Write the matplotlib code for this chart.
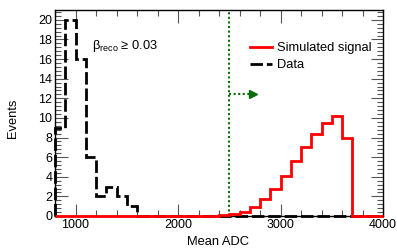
import numpy as np
import matplotlib
matplotlib.use("Agg")
import matplotlib.pyplot as plt
from matplotlib.ticker import MultipleLocator

plt.rcParams['font.family'] = ['Liberation Sans', 'DejaVu Sans']
plt.rcParams['mathtext.fontset'] = 'custom'
plt.rcParams['mathtext.rm'] = 'Liberation Sans'
plt.rcParams['mathtext.it'] = 'Liberation Sans:italic'

# binning: 100 ADC wide bins from 800 to 4000
edges = np.arange(800, 4001, 100)

data_counts = [9, 20, 16, 6, 2, 3, 2, 1, 0, 0, 0, 0, 0, 0, 0, 0,
               0, 0, 0, 0, 0, 0, 0, 0, 0, 0, 0, 0, 0, 0, 0, 0]
signal_counts = [0, 0, 0, 0, 0, 0, 0, 0, 0, 0, 0, 0, 0, 0, 0, 0,
                 0.08, 0.22, 0.45, 0.88, 1.7, 2.8, 4.1, 5.6, 7.0, 8.4, 9.5, 10.2,
                 7.95, 0, 0, 0]

cut = 2500
arrow_y = 12.4
arrow_end = 2700

fig = plt.figure(figsize=(3.97, 2.52), dpi=100)
ax = fig.add_axes([55 / 397, 1 - 216 / 252, 328 / 397, 206 / 252])

green = '#0a6e0a'
ax.axvline(cut, color=green, ls=(0, (1, 1.2)), lw=1.5, zorder=1)
ax.plot([cut, arrow_end], [arrow_y, arrow_y], color=green, ls=(0, (1, 1.2)), lw=1.5)
ax.plot([arrow_end + 35], [arrow_y], marker='>', ms=6, color=green, ls='none')

ax.stairs(data_counts, edges, color='black', lw=2, ls=(0, (4.5, 1.4)),
          baseline=0, label='Data', zorder=2, clip_on=False)
ax.stairs(signal_counts, edges, color='red', lw=2, baseline=0,
          label='Simulated signal', zorder=3, clip_on=False)

ax.set_xlim(800, 4000)
ax.set_ylim(0, 21)
ax.xaxis.set_major_locator(MultipleLocator(1000))
ax.xaxis.set_minor_locator(MultipleLocator(200))
ax.yaxis.set_major_locator(MultipleLocator(2))
ax.yaxis.set_minor_locator(MultipleLocator(0.4))
ax.tick_params(which='both', direction='in', top=True, right=True,
               labelsize=9, width=0.8, color='#555555')
ax.tick_params(which='major', length=9, pad=2)
ax.tick_params(which='minor', length=4.5)
for s in ax.spines.values():
    s.set_linewidth(1.0)

ax.text(1160, 17.3, r'$\mathrm{\beta_{reco}}$ ≥ 0.03', fontsize=9.3,
        ha='left', va='center')

h, l = ax.get_legend_handles_labels()
ax.legend(h[::-1], l[::-1], loc='upper left', bbox_to_anchor=(250 / 397, 1 - 42 / 252),
          bbox_transform=fig.transFigure, frameon=False, fontsize=9.3,
          handlelength=1.7, handletextpad=0.4, labelspacing=0.4,
          borderpad=0, borderaxespad=0)

fig.text(218 / 397, 1 - 242 / 252, 'Mean ADC', fontsize=9.3, ha='center', va='center')
fig.text(13 / 397, 1 - 118 / 252, 'Events', fontsize=9.3, ha='center', va='center',
         rotation=90)

fig.savefig('out.png', dpi=100)
